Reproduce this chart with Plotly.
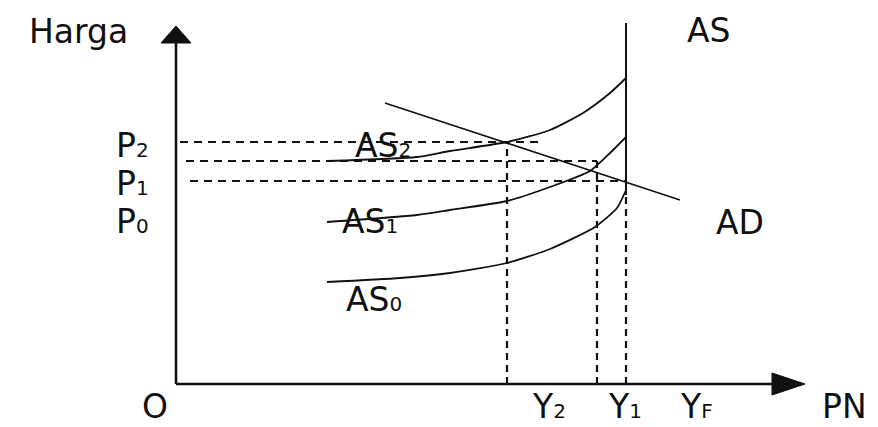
import plotly.graph_objects as go

# Coordinate system: x = national output (PN), y = price level (Harga); origin at O
X_RANGE = [-176, 702]
Y_RANGE = [-43, 384]

# Output levels (x)
Y2, Y1, YF = 331, 421, 450
# Price levels (y)
P2, P_MID, P1, P0 = 242, 223, 203, 162

# Aggregate supply curves
as0_x = [151, 224, 274, 331, 374, 419, 441, 450]
as0_y = [102, 106, 111, 121, 135, 157, 176, 194]
as1_x = [151, 241, 274, 331, 374, 414, 434, 450]
as1_y = [162, 169, 174, 183, 197, 213, 231, 247]
as2_x = [151, 241, 274, 331, 374, 407, 434, 450]
as2_y = [223, 227, 233, 242, 254, 271, 291, 306]
# Long-run vertical AS at full employment output
as_v_y = [189, 361]
# Aggregate demand
ad_x = [209, 504]
ad_y = [281, 184]

# Axis extents
y_axis_top = 345
x_axis_end = 600

FONT = "DejaVu Sans"
FS = 33
SUB = 20
INK = "#111111"

fig = go.Figure()

def line(x, y, width=2.0, dash="solid", shape="spline"):
    fig.add_trace(go.Scatter(x=x, y=y, mode="lines",
                             line=dict(color=INK, width=width, dash=dash, shape=shape, smoothing=0.6),
                             hoverinfo="skip", showlegend=False))

DASH = "8px,6px"
VDASH = "7px,5px"
# dashed guides
line([4, 362], [P2, P2], 1.8, DASH, "linear")
line([10, Y1], [P_MID, P_MID], 1.8, DASH, "linear")
line([14, YF], [P1, P1], 1.8, DASH, "linear")
line([Y2, Y2], [0, P2], 2.2, VDASH, "linear")
line([Y1, Y1], [0, P_MID], 2.2, VDASH, "linear")
line([YF, YF], [0, as_v_y[0]], 2.2, VDASH, "linear")

# curves
line(as0_x, as0_y, 1.8)
line(as1_x, as1_y, 1.8)
line(as2_x, as2_y, 1.8)
line([YF, YF], as_v_y, 2.0, "solid", "linear")
line(ad_x, ad_y, 1.7, "solid", "linear")

# axes
line([0, 0], [0, y_axis_top], 2.6, "solid", "linear")
line([0, x_axis_end], [0, 0], 2.6, "solid", "linear")
fig.add_shape(type="path", xref="x", yref="y",
              path=f"M -15 {y_axis_top-4} L 0 {y_axis_top+13} L 15 {y_axis_top-4} Z",
              fillcolor=INK, line=dict(color=INK, width=1))
fig.add_shape(type="path", xref="x", yref="y",
              path=f"M {x_axis_end-4} -11 L {x_axis_end+29} 0 L {x_axis_end-4} 11 Z",
              fillcolor=INK, line=dict(color=INK, width=1))

def sub(base, s):
    return f"{base}<span style='font-size:{SUB}px'>{s}</span>"

labels = [
    ("Harga", -98, 353, "middle"),
    ("AS", 533, 354, "middle"),
    (sub("P", "2"), -44, 239, "middle"),
    (sub("P", "1"), -44, 201, "middle"),
    (sub("P", "0"), -44, 163, "middle"),
    (sub("AS", "2"), 207, 239, "middle"),
    (sub("AS", "1"), 194, 163, "middle"),
    (sub("AS", "0"), 198, 85, "middle"),
    ("AD", 564, 162, "middle"),
    ("O", -21, -43, "bottom"),
    (sub("Y", "2"), 373, -43, "bottom"),
    (sub("Y", "1"), 449, -43, "bottom"),
    (sub("Y", "F"), 520, -43, "bottom"),
    ("PN", 668, -43, "bottom"),
]
for text, x, y, ya in labels:
    fig.add_annotation(x=x, y=y, xref="x", yref="y", text=text, showarrow=False,
                       font=dict(family=FONT, size=FS, color=INK),
                       xanchor="center", yanchor=ya, borderpad=0)

fig.update_layout(
    width=878, height=427,
    margin=dict(l=0, r=0, t=0, b=0),
    paper_bgcolor="white", plot_bgcolor="white",
    xaxis=dict(range=X_RANGE, visible=False, fixedrange=True),
    yaxis=dict(range=Y_RANGE, visible=False, fixedrange=True),
    showlegend=False,
)

fig.write_html("out.html", config={"displayModeBar": False},
               post_script="document.body.style.margin='0';document.body.style.overflow='hidden';")
